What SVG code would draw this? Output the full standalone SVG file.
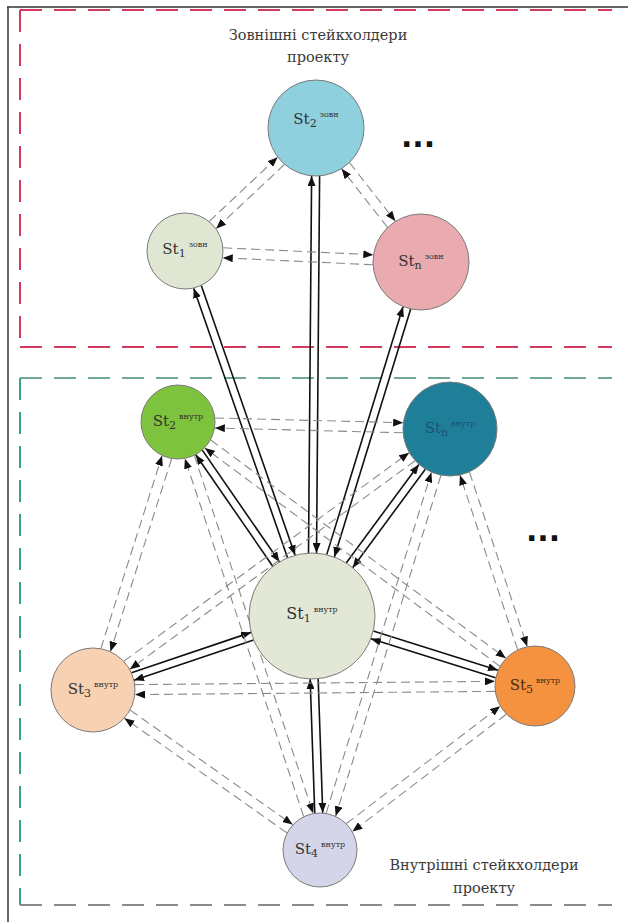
<svg xmlns="http://www.w3.org/2000/svg" width="628" height="922" viewBox="0 0 628 922">
<style>
.s{stroke:#111;stroke-width:1.6;fill:none}
.d{stroke:#8a8a8a;stroke-width:1.1;fill:none;stroke-dasharray:9 5}
.node{stroke:#7a7a7a;stroke-width:1}
.lbl{font-family:"DejaVu Serif","Liberation Serif",serif;font-size:15px;fill:#333;text-anchor:middle}
.sub{font-size:11px}
.sup{font-size:8px}
.cap{font-family:"DejaVu Serif","Liberation Serif",serif;font-size:14.5px;fill:#3a3a3a;text-anchor:middle}
.dots{font-family:"DejaVu Sans","Liberation Sans",sans-serif;font-size:30px;font-weight:bold;fill:#111;text-anchor:middle}
</style>
<defs>
<marker id="ah" viewBox="0 0 10 8" refX="10" refY="4" markerWidth="10" markerHeight="8" markerUnits="userSpaceOnUse" orient="auto"><path d="M0,0 L10,4 L0,8 z" fill="#111"/></marker>
</defs>
<rect width="628" height="922" fill="#fff"/>
<g id="border" stroke="#333" stroke-width="1.5">
<line x1="7" y1="7" x2="628" y2="7"/>
<line x1="8" y1="7" x2="8" y2="922"/>
</g>
<g id="external-box" fill="none" stroke="#d2395c" stroke-width="2" stroke-dasharray="22 12">
<line x1="20" y1="10" x2="612" y2="10"/>
<line x1="20" y1="10" x2="20" y2="347"/>
<line x1="20" y1="347" x2="612" y2="347"/>
</g>
<g id="internal-box" fill="none" stroke-width="2" stroke-dasharray="22 12">
<line x1="20" y1="378" x2="612" y2="378" stroke="#6fa89a"/>
<line x1="20" y1="378" x2="20" y2="905" stroke="#3aa57a"/>
<line x1="20" y1="905" x2="612" y2="905" stroke="#8a8a8a"/>
</g>
<g id="connectors">
<g transform="translate(312,616) rotate(-89.53)"><line class="s" x1="63" y1="-4" x2="440" y2="-4" marker-end="url(#ah)"/><line class="s" x1="440" y1="4" x2="63" y2="4" marker-end="url(#ah)"/></g>
<g transform="translate(312,616) rotate(-109.18)"><line class="s" x1="63" y1="-4" x2="348.5" y2="-4" marker-end="url(#ah)"/><line class="s" x1="348.5" y1="4" x2="63" y2="4" marker-end="url(#ah)"/></g>
<g transform="translate(312,616) rotate(-72.89)"><line class="s" x1="63" y1="-4" x2="322.4" y2="-4" marker-end="url(#ah)"/><line class="s" x1="322.4" y1="4" x2="63" y2="4" marker-end="url(#ah)"/></g>
<g transform="translate(312,616) rotate(-124.63)"><line class="s" x1="63" y1="-4" x2="198.8" y2="-4" marker-end="url(#ah)"/><line class="s" x1="198.8" y1="4" x2="63" y2="4" marker-end="url(#ah)"/></g>
<g transform="translate(312,616) rotate(-53.57)"><line class="s" x1="63" y1="-4" x2="185.4" y2="-4" marker-end="url(#ah)"/><line class="s" x1="185.4" y1="4" x2="63" y2="4" marker-end="url(#ah)"/></g>
<g transform="translate(312,616) rotate(161.33)"><line class="s" x1="63" y1="-4" x2="189.2" y2="-4" marker-end="url(#ah)"/><line class="s" x1="189.2" y1="4" x2="63" y2="4" marker-end="url(#ah)"/></g>
<g transform="translate(312,616) rotate(17.43)"><line class="s" x1="63" y1="-4" x2="193.7" y2="-4" marker-end="url(#ah)"/><line class="s" x1="193.7" y1="4" x2="63" y2="4" marker-end="url(#ah)"/></g>
<g transform="translate(312,616) rotate(88.04)"><line class="s" x1="63" y1="-4" x2="197.1" y2="-4" marker-end="url(#ah)"/><line class="s" x1="197.1" y1="4" x2="63" y2="4" marker-end="url(#ah)"/></g>
<g transform="translate(316,128) rotate(136.81)"><line class="d" x1="48" y1="-5" x2="141.7" y2="-5" marker-end="url(#ah)"/><line class="d" x1="141.7" y1="5" x2="48" y2="5" marker-end="url(#ah)"/></g>
<g transform="translate(316,128) rotate(51.92)"><line class="d" x1="48" y1="-5" x2="122.2" y2="-5" marker-end="url(#ah)"/><line class="d" x1="122.2" y1="5" x2="48" y2="5" marker-end="url(#ah)"/></g>
<g transform="translate(185,251) rotate(2.67)"><line class="d" x1="38" y1="-5" x2="188.3" y2="-5" marker-end="url(#ah)"/><line class="d" x1="188.3" y1="5" x2="38" y2="5" marker-end="url(#ah)"/></g>
<g transform="translate(178,422) rotate(1.47)"><line class="d" x1="37" y1="-5" x2="225.1" y2="-5" marker-end="url(#ah)"/><line class="d" x1="225.1" y1="5" x2="37" y2="5" marker-end="url(#ah)"/></g>
<g transform="translate(178,422) rotate(107.6)"><line class="d" x1="37" y1="-5" x2="239.2" y2="-5" marker-end="url(#ah)"/><line class="d" x1="239.2" y1="5" x2="37" y2="5" marker-end="url(#ah)"/></g>
<g transform="translate(178,422) rotate(36.48)"><line class="d" x1="37" y1="-5" x2="404" y2="-5" marker-end="url(#ah)"/><line class="d" x1="404" y1="5" x2="37" y2="5" marker-end="url(#ah)"/></g>
<g transform="translate(178,422) rotate(71.64)"><line class="d" x1="37" y1="-5" x2="413.9" y2="-5" marker-end="url(#ah)"/><line class="d" x1="413.9" y1="5" x2="37" y2="5" marker-end="url(#ah)"/></g>
<g transform="translate(450,429) rotate(143.83)"><line class="d" x1="47" y1="-5" x2="400.2" y2="-5" marker-end="url(#ah)"/><line class="d" x1="400.2" y1="5" x2="47" y2="5" marker-end="url(#ah)"/></g>
<g transform="translate(450,429) rotate(71.7)"><line class="d" x1="47" y1="-5" x2="230.7" y2="-5" marker-end="url(#ah)"/><line class="d" x1="230.7" y1="5" x2="47" y2="5" marker-end="url(#ah)"/></g>
<g transform="translate(450,429) rotate(107.16)"><line class="d" x1="47" y1="-5" x2="403.6" y2="-5" marker-end="url(#ah)"/><line class="d" x1="403.6" y1="5" x2="47" y2="5" marker-end="url(#ah)"/></g>
<g transform="translate(93,690) rotate(-0.52)"><line class="d" x1="42" y1="-5" x2="402" y2="-5" marker-end="url(#ah)"/><line class="d" x1="402" y1="5" x2="42" y2="5" marker-end="url(#ah)"/></g>
<g transform="translate(93,690) rotate(35.18)"><line class="d" x1="42" y1="-5" x2="240.7" y2="-5" marker-end="url(#ah)"/><line class="d" x1="240.7" y1="5" x2="42" y2="5" marker-end="url(#ah)"/></g>
<g transform="translate(535,686) rotate(142.67)"><line class="d" x1="40" y1="-5" x2="233.4" y2="-5" marker-end="url(#ah)"/><line class="d" x1="233.4" y1="5" x2="40" y2="5" marker-end="url(#ah)"/></g>
</g>
<g id="st2-zovn"><circle class="node" cx="316" cy="128" r="48" fill="#8fd0de"/><text class="lbl" x="316" y="124">St<tspan class="sub" dy="3">2</tspan><tspan class="sup" dx="3" dy="-10">зовн</tspan></text></g>
<g id="st1-zovn"><circle class="node" cx="185" cy="251" r="38" fill="#dfe7d2"/><text class="lbl" x="185" y="254">St<tspan class="sub" dy="3">1</tspan><tspan class="sup" dx="3" dy="-10">зовн</tspan></text></g>
<g id="stn-zovn"><circle class="node" cx="421" cy="262" r="48" fill="#e9aab0"/><text class="lbl" x="421" y="266">St<tspan class="sub" dy="3">n</tspan><tspan class="sup" dx="3" dy="-10">зовн</tspan></text></g>
<g id="st2-vnutr"><circle class="node" cx="178" cy="422" r="37" fill="#7ec33e"/><text class="lbl" x="178" y="426">St<tspan class="sub" dy="3">2</tspan><tspan class="sup" dx="3" dy="-10">внутр</tspan></text></g>
<g id="stn-vnutr"><circle class="node" cx="450" cy="429" r="47" fill="#1f7f98"/><text class="lbl" x="450" y="433" style="fill:#1d4e78">St<tspan class="sub" dy="3">n</tspan><tspan class="sup" dx="3" dy="-10">внутр</tspan></text></g>
<g id="st1-vnutr"><circle class="node" cx="312" cy="616" r="63" fill="#e3e8d6"/><text class="lbl" x="312" y="619" style="font-size:16px">St<tspan class="sub" dy="3">1</tspan><tspan class="sup" dx="3" dy="-10">внутр</tspan></text></g>
<g id="st3-vnutr"><circle class="node" cx="93" cy="690" r="42" fill="#f8d0b2"/><text class="lbl" x="93" y="694">St<tspan class="sub" dy="3">3</tspan><tspan class="sup" dx="3" dy="-10">внутр</tspan></text></g>
<g id="st5-vnutr"><circle class="node" cx="535" cy="686" r="40" fill="#f5923f"/><text class="lbl" x="535" y="690" style="fill:#4a2a10">St<tspan class="sub" dy="3">5</tspan><tspan class="sup" dx="3" dy="-10">внутр</tspan></text></g>
<g id="st4-vnutr"><circle class="node" cx="320" cy="850" r="37" fill="#d5d5e9"/><text class="lbl" x="320" y="854">St<tspan class="sub" dy="3">4</tspan><tspan class="sup" dx="3" dy="-10">внутр</tspan></text></g>
<text class="dots" x="418" y="147">...</text>
<text class="dots" x="543" y="541">...</text>
<text class="cap" x="318" y="40">Зовнішні стейкхолдери</text>
<text class="cap" x="318" y="62">проекту</text>
<text class="cap" x="484" y="870">Внутрішні стейкхолдери</text>
<text class="cap" x="484" y="893">проекту</text>
</svg>
